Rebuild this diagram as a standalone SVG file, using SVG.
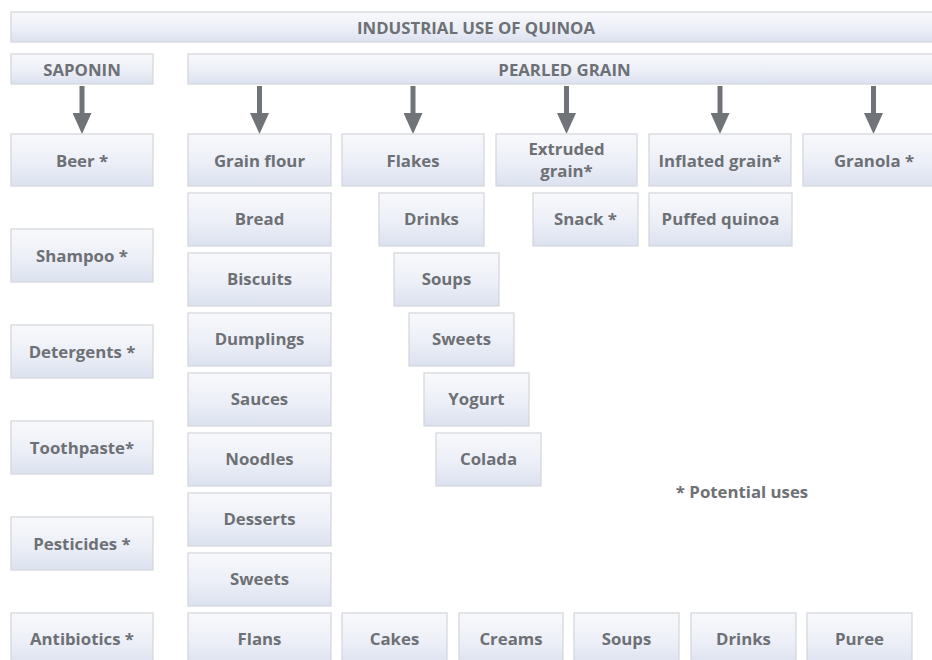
<svg xmlns="http://www.w3.org/2000/svg" width="932" height="660" viewBox="0 0 932 660">
<defs>
<linearGradient id="g" x1="0" y1="0" x2="0" y2="1">
<stop offset="0" stop-color="#f8f9fc"/>
<stop offset="0.55" stop-color="#eceff7"/>
<stop offset="1" stop-color="#dbe1ef"/>
</linearGradient>
<marker id="ah" viewBox="0 0 21 19" refX="0" refY="9.5" markerWidth="21" markerHeight="19" markerUnits="userSpaceOnUse" orient="auto">
<path d="M0,0 L21,9.5 L0,19 Z" fill="#707378"/>
</marker>
</defs>
<style>
rect{fill:url(#g);stroke:#d3d5d9;stroke-width:1.2}
text{font-family:"Open Sans","Liberation Sans",sans-serif;font-weight:700;font-size:16.8px;fill:#6d7075;text-anchor:middle;dominant-baseline:central}
.c{stroke:#707378;stroke-width:5;fill:none}
</style>
<rect width="932" height="660" style="fill:#fff;stroke:none"/>
<g id="title"><rect x="11" y="12" width="930" height="30"/><text x="476" y="27">INDUSTRIAL USE OF QUINOA</text></g>
<g id="saponin"><rect x="11" y="54" width="142" height="30"/><text x="82" y="69">SAPONIN</text></g>
<g id="pearled"><rect x="188" y="54" width="753" height="30"/><text x="564.5" y="69">PEARLED GRAIN</text></g>

<g id="connectors">
<line class="c" x1="82" y1="86" x2="82" y2="113" marker-end="url(#ah)"/>
<line class="c" x1="259.5" y1="86" x2="259.5" y2="113" marker-end="url(#ah)"/>
<line class="c" x1="413" y1="86" x2="413" y2="113" marker-end="url(#ah)"/>
<line class="c" x1="566.5" y1="86" x2="566.5" y2="113" marker-end="url(#ah)"/>
<line class="c" x1="720" y1="86" x2="720" y2="113" marker-end="url(#ah)"/>
<line class="c" x1="873.5" y1="86" x2="873.5" y2="113" marker-end="url(#ah)"/>
</g>

<g id="beer"><rect x="11" y="134" width="142" height="52"/><text x="82" y="160">Beer *</text></g>
<g id="shampoo"><rect x="11" y="229" width="142" height="53"/><text x="82" y="255.5">Shampoo *</text></g>
<g id="detergents"><rect x="11" y="325" width="142" height="53"/><text x="82" y="351.5">Detergents *</text></g>
<g id="toothpaste"><rect x="11" y="421" width="142" height="53"/><text x="82" y="447.5">Toothpaste*</text></g>
<g id="pesticides"><rect x="11" y="517" width="142" height="53"/><text x="82" y="543.5">Pesticides *</text></g>
<g id="antibiotics"><rect x="11" y="613" width="142" height="53"/><text x="82" y="638">Antibiotics *</text></g>

<g id="grainflour"><rect x="188" y="134" width="143" height="52"/><text x="259.5" y="160">Grain flour</text></g>
<g id="flakes"><rect x="342" y="134" width="142" height="52"/><text x="413" y="160">Flakes</text></g>
<g id="extruded"><rect x="496" y="134" width="141" height="52"/><text x="566.5" y="148">Extruded</text><text x="566.5" y="170">grain*</text></g>
<g id="inflated"><rect x="649" y="134" width="142" height="52"/><text x="720" y="160">Inflated grain*</text></g>
<g id="granola"><rect x="803" y="134" width="142" height="52"/><text x="874" y="160">Granola *</text></g>

<g id="bread"><rect x="188" y="193" width="143" height="53"/><text x="259.5" y="218">Bread</text></g>
<g id="biscuits"><rect x="188" y="253" width="143" height="53"/><text x="259.5" y="278">Biscuits</text></g>
<g id="dumplings"><rect x="188" y="313" width="143" height="53"/><text x="259.5" y="338">Dumplings</text></g>
<g id="sauces"><rect x="188" y="373" width="143" height="53"/><text x="259.5" y="398">Sauces</text></g>
<g id="noodles"><rect x="188" y="433" width="143" height="53"/><text x="259.5" y="458">Noodles</text></g>
<g id="desserts"><rect x="188" y="493" width="143" height="53"/><text x="259.5" y="518">Desserts</text></g>
<g id="sweets1"><rect x="188" y="553" width="143" height="53"/><text x="259.5" y="578">Sweets</text></g>
<g id="flans"><rect x="188" y="613" width="143" height="53"/><text x="259.5" y="638">Flans</text></g>

<g id="drinks1"><rect x="379" y="193" width="105" height="53"/><text x="431.5" y="218">Drinks</text></g>
<g id="soups1"><rect x="394" y="253" width="105" height="53"/><text x="446.5" y="278">Soups</text></g>
<g id="sweets2"><rect x="409" y="313" width="105" height="53"/><text x="461.5" y="338">Sweets</text></g>
<g id="yogurt"><rect x="424" y="373" width="105" height="53"/><text x="476.5" y="398">Yogurt</text></g>
<g id="colada"><rect x="436" y="433" width="105" height="53"/><text x="488.5" y="458">Colada</text></g>

<g id="snack"><rect x="533" y="193" width="105" height="53"/><text x="585.5" y="218">Snack *</text></g>
<g id="puffed"><rect x="649" y="193" width="143" height="53"/><text x="720.5" y="218">Puffed quinoa</text></g>

<g id="cakes"><rect x="342" y="613" width="105" height="53"/><text x="394.5" y="638">Cakes</text></g>
<g id="creams"><rect x="459" y="613" width="104" height="53"/><text x="511" y="638">Creams</text></g>
<g id="soups2"><rect x="574" y="613" width="105" height="53"/><text x="626.5" y="638">Soups</text></g>
<g id="drinks2"><rect x="691" y="613" width="105" height="53"/><text x="743.5" y="638">Drinks</text></g>
<g id="puree"><rect x="807" y="613" width="105" height="53"/><text x="859.5" y="638">Puree</text></g>

<text x="742" y="491">* Potential uses</text>
</svg>
